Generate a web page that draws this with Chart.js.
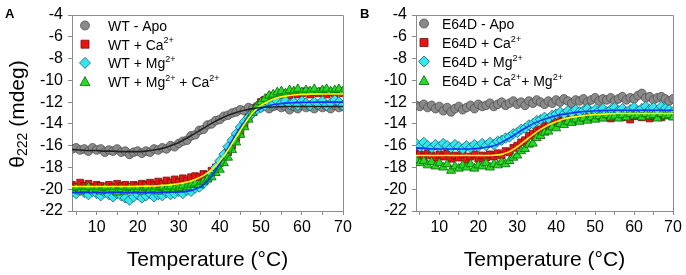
<!DOCTYPE html>
<html>
<head>
<meta charset="utf-8">
<script src="https://cdn.jsdelivr.net/npm/chart.js@4.4.1/dist/chart.umd.min.js"></script>
<style>
  html, body { margin: 0; padding: 0; background: #fff; }
  #wrap { position: relative; width: 686px; height: 275px; overflow: hidden; }
  .panel { position: absolute; top: 0; height: 275px; }
  #boxA { left: 0; width: 362px; }
  #boxB { left: 345px; width: 341px; }
</style>
</head>
<body>
<div id="wrap">
  <div class="panel" id="boxA"><canvas id="chartA" width="362" height="275"></canvas></div>
  <div class="panel" id="boxB"><canvas id="chartB" width="341" height="275"></canvas></div>
</div>
<script>
// ---- data ----
const temps = [4,5,6,7,8,9,10,11,12,13,14,15,16,17,18,19,20,21,22,23,24,25,26,27,28,29,30,31,32,33,34,35,36,37,
  38,39,40,41,42,43,44,45,46,47,48,49,50,51,52,53,54,55,56,57,58,59,60,61,62,63,64,65,66,67,68,69,70];
const fitTemps = [4,6,8,10,12,14,16,18,20,22,24,26,28,30,32,34,36,38,40,42,44,46,48,50,52,54,56,58,60,62,64,66,68,70];
const xTickVals = [5,10,15,20,25,30,35,40,45,50,55,60,65,70];

// panel A : WT
const wtApo = [-16.3,-16.2,-16.4,-16.3,-16.5,-16.2,-16.4,-16.3,-16.6,-16.4,
  -16.5,-16.3,-16.6,-16.5,-16.8,-16.6,-16.5,-16.7,-16.5,-16.6,
  -16.3,-16.4,-16.2,-16.3,-16.0,-16.1,-15.8,-15.6,-15.5,-15.1,
  -15.0,-14.6,-14.5,-14.1,-14.0,-13.7,-13.6,-13.3,-13.2,-13.0,
  -12.9,-12.7,-12.8,-12.5,-12.6,-12.4,-12.5,-12.3,-12.6,-12.4,
  -12.3,-12.5,-12.4,-12.7,-12.4,-12.6,-12.3,-12.5,-12.4,-12.6,
  -12.3,-12.5,-12.4,-12.6,-12.3,-12.5,-12.4];
const wtCa = [-19.6,-19.8,-19.4,-19.7,-19.5,-19.8,-19.6,-19.7,-19.9,-19.6,
  -19.8,-19.5,-19.7,-19.6,-19.8,-19.6,-19.7,-19.5,-19.6,-19.4,
  -19.6,-19.3,-19.5,-19.2,-19.4,-19.1,-19.3,-19.0,-19.2,-18.9,
  -18.8,-18.9,-18.6,-18.7,-18.3,-18.0,-17.6,-17.0,-16.6,-16.0,
  -15.3,-14.8,-14.1,-13.4,-12.9,-12.5,-12.0,-11.8,-11.6,-11.4,
  -11.5,-11.3,-11.2,-11.4,-11.1,-11.3,-11.2,-11.0,-11.3,-11.1,
  -11.2,-11.0,-11.3,-11.1,-11.2,-11.0,-11.2];
const wtMg = [-20.2,-20.4,-20.1,-20.3,-20.5,-20.2,-20.4,-20.6,-20.3,-20.5,
  -20.7,-20.4,-20.6,-20.8,-21.0,-20.7,-20.5,-20.8,-20.6,-20.4,
  -20.7,-20.5,-20.6,-20.3,-20.5,-20.4,-20.2,-20.4,-20.1,-20.2,
  -19.9,-19.8,-19.5,-19.1,-18.6,-18.0,-17.4,-16.8,-16.1,-15.5,
  -14.9,-14.3,-13.8,-13.4,-13.0,-12.7,-12.5,-12.3,-12.1,-12.2,
  -11.9,-12.1,-11.9,-12.2,-12.0,-12.3,-11.9,-12.1,-12.3,-12.0,
  -12.2,-11.9,-12.3,-12.1,-11.8,-12.0,-12.3];
const wtMgCa = [-20.1,-19.9,-20.2,-20.0,-19.8,-20.1,-20.0,-20.2,-19.9,-20.1,
  -20.0,-20.3,-20.0,-20.2,-19.9,-20.1,-20.0,-20.2,-19.9,-20.1,
  -20.0,-20.2,-19.9,-20.0,-19.8,-20.0,-19.9,-19.7,-19.8,-19.6,
  -19.5,-19.6,-19.3,-19.1,-18.9,-18.5,-18.2,-17.6,-17.1,-16.4,
  -15.7,-15.0,-14.3,-13.6,-13.0,-12.4,-12.0,-11.7,-11.4,-11.3,
  -11.1,-11.0,-11.2,-10.9,-11.0,-10.8,-11.1,-10.9,-11.0,-10.8,
  -11.1,-10.9,-10.8,-11.0,-10.9,-10.8,-11.0];
const fitWtApo = [-16.35,-16.4,-16.45,-16.45,-16.5,-16.5,-16.55,-16.55,-16.55,-16.5,
  -16.4,-16.25,-16.0,-15.7,-15.3,-14.85,-14.4,-13.95,-13.55,-13.2,
  -12.95,-12.75,-12.6,-12.5,-12.45,-12.42,-12.4,-12.4,-12.4,-12.4,
  -12.4,-12.4,-12.4,-12.4];
const fitWtCa = [-19.75,-19.75,-19.75,-19.75,-19.75,-19.75,-19.75,-19.75,-19.74,-19.72,
  -19.7,-19.65,-19.6,-19.5,-19.35,-19.1,-18.75,-18.2,-17.4,-16.4,
  -15.2,-14.0,-13.0,-12.3,-11.9,-11.6,-11.45,-11.35,-11.3,-11.27,
  -11.25,-11.25,-11.25,-11.25];
const fitWtMg = [-20.3,-20.3,-20.3,-20.3,-20.3,-20.3,-20.3,-20.3,-20.3,-20.3,
  -20.3,-20.3,-20.28,-20.25,-20.2,-20.0,-19.6,-18.8,-17.6,-16.2,
  -14.9,-13.8,-13.05,-12.6,-12.32,-12.17,-12.09,-12.05,-12.02,-12.01,
  -12.0,-12.0,-12.0,-12.0];
const fitWtMgCa = [-20.0,-20.0,-20.0,-20.0,-20.0,-20.0,-20.0,-20.0,-20.0,-20.0,
  -20.0,-20.0,-19.98,-19.95,-19.85,-19.65,-19.35,-18.85,-18.1,-17.0,
  -15.7,-14.3,-13.1,-12.3,-11.75,-11.45,-11.25,-11.15,-11.08,-11.05,
  -11.02,-11.0,-11.0,-11.0];

// panel B : E64D
const e64dApo = [-12.3,-12.4,-12.2,-12.5,-12.3,-12.6,-12.4,-12.8,-12.5,-12.9,
  -12.6,-12.4,-12.7,-12.5,-12.3,-12.6,-12.2,-12.4,-12.3,-12.1,
  -12.4,-12.2,-12.0,-12.3,-12.1,-11.9,-12.2,-12.0,-12.3,-11.9,
  -12.1,-11.8,-12.0,-12.2,-11.9,-12.1,-11.8,-12.0,-11.7,-11.9,
  -12.1,-11.8,-11.9,-11.7,-12.0,-11.8,-11.6,-11.9,-11.7,-11.8,
  -11.6,-11.9,-11.7,-11.5,-11.8,-11.6,-11.7,-11.4,-11.2,-11.6,
  -11.5,-11.8,-11.6,-11.5,-11.7,-11.9,-11.7];
const e64dCa = [-16.5,-16.8,-17.0,-16.7,-16.9,-17.1,-16.8,-17.0,-16.7,-17.2,
  -16.9,-17.1,-16.8,-17.3,-17.0,-16.8,-17.2,-16.9,-17.1,-16.8,
  -17.0,-16.7,-16.9,-16.5,-16.6,-16.2,-16.0,-15.7,-15.5,-15.1,
  -14.9,-14.6,-14.5,-14.2,-14.1,-13.9,-13.8,-13.6,-13.7,-13.5,
  -13.4,-13.6,-13.3,-13.5,-13.2,-13.4,-13.3,-13.1,-13.4,-13.2,
  -13.5,-13.3,-13.1,-13.4,-13.2,-13.6,-13.3,-13.1,-13.4,-13.2,
  -13.5,-13.3,-13.1,-13.4,-13.2,-13.0,-13.3];
const e64dMg = [-15.8,-16.1,-15.7,-16.0,-16.2,-15.9,-16.1,-15.8,-16.0,-16.2,
  -15.9,-16.1,-16.3,-16.0,-16.2,-15.9,-16.1,-15.8,-16.0,-15.7,
  -15.9,-15.6,-15.5,-15.3,-15.2,-14.9,-14.8,-14.5,-14.4,-14.1,
  -14.0,-13.7,-13.6,-13.4,-13.5,-13.2,-13.1,-12.9,-13.1,-12.8,
  -13.0,-12.7,-12.9,-12.8,-12.6,-12.9,-12.7,-12.8,-12.6,-12.9,
  -12.7,-12.5,-12.8,-12.6,-12.9,-12.7,-12.5,-12.8,-12.6,-12.4,
  -12.7,-12.5,-12.8,-12.4,-12.6,-12.7,-12.9];
const e64dCaMg = [-17.3,-17.6,-17.4,-17.8,-17.5,-17.9,-17.6,-18.0,-17.7,-18.3,
  -17.9,-18.1,-17.8,-18.0,-17.7,-18.1,-17.8,-17.9,-17.6,-18.0,
  -17.7,-17.8,-17.5,-17.7,-17.4,-17.1,-16.9,-16.5,-16.3,-15.9,
  -15.8,-15.3,-15.1,-14.8,-14.7,-14.3,-14.4,-14.0,-14.1,-13.8,
  -13.9,-13.6,-13.8,-13.5,-13.7,-13.4,-13.6,-13.3,-13.5,-13.2,
  -13.4,-13.3,-13.5,-13.2,-13.4,-13.1,-13.3,-13.2,-13.4,-13.1,
  -13.3,-13.2,-13.5,-13.1,-13.3,-13.2,-13.4];
const fitE64dCa = [-16.9,-16.9,-16.9,-16.9,-16.9,-16.9,-16.9,-16.9,-16.9,-16.9,
  -16.88,-16.8,-16.55,-16.1,-15.55,-15.0,-14.5,-14.1,-13.8,-13.55,
  -13.4,-13.3,-13.2,-13.15,-13.1,-13.07,-13.05,-13.05,-13.05,-13.05,
  -13.05,-13.05,-13.05,-13.05];
const fitE64dMg = [-16.2,-16.25,-16.3,-16.3,-16.3,-16.3,-16.3,-16.3,-16.25,-16.15,
  -16.0,-15.7,-15.3,-14.85,-14.4,-14.0,-13.7,-13.45,-13.25,-13.1,
  -13.0,-12.9,-12.85,-12.8,-12.78,-12.76,-12.75,-12.75,-12.75,-12.75,
  -12.75,-12.75,-12.75,-12.75];

const legendA = ['WT - Apo', 'WT + Ca^{2+}', 'WT + Mg^{2+}', 'WT + Mg^{2+} + Ca^{2+}'];
const legendB = ['E64D - Apo', 'E64D + Ca^{2+}', 'E64D + Mg^{2+}', 'E64D + Ca^{2+}+ Mg^{2+}'];

// ---- styles ----
const FONT = "Arial, 'Liberation Sans', sans-serif";
const AXIS = '#8c8c8c';
const markers = [
  { shape: 'circle', fill: '#8a8a8a', stroke: '#505050', r: 4.3 },
  { shape: 'rect', fill: '#ee1111', stroke: '#701010', r: 4.8 },
  { shape: 'rectRot', fill: '#33e6f0', stroke: '#1a6070', r: 5.2 },
  { shape: 'triangle', fill: '#22dd22', stroke: '#106010', r: 5.2 },
];
const fitColors = ['#222222', '#ffff00', '#1030ff', '#10a010'];

Chart.defaults.font.family = FONT;

const pts = (xs, ys) => ys.map((y, i) => ({ x: xs[i], y }));

function buildSets(series, fits) {
  const sets = [];
  fits.forEach((f, i) => {
    if (!f) return;
    sets.push({
      data: pts(fitTemps, f), showLine: true, pointRadius: 0,
      borderColor: fitColors[i], borderWidth: 1.6, cubicInterpolationMode: 'monotone', order: 0,
    });
  });
  const drawOrder = [4, 3, 2, 1];
  series.forEach((s, i) => {
    const m = markers[i];
    sets.push({
      data: pts(temps, s), showLine: false, pointStyle: m.shape, pointRadius: m.r,
      backgroundColor: m.fill, borderColor: m.stroke, borderWidth: 0.8, order: drawOrder[i],
    });
  });
  return sets;
}

function drawMarker(ctx, shape, x, y, fill, stroke) {
  ctx.beginPath();
  if (shape === 'circle') ctx.arc(x, y, 4.5, 0, Math.PI * 2);
  else if (shape === 'rect') ctx.rect(x - 4, y - 4, 8, 8);
  else if (shape === 'rectRot') {
    ctx.moveTo(x, y - 5.5); ctx.lineTo(x + 5.5, y); ctx.lineTo(x, y + 5.5); ctx.lineTo(x - 5.5, y); ctx.closePath();
  } else {
    ctx.moveTo(x, y - 5); ctx.lineTo(x + 5, y + 4); ctx.lineTo(x - 5, y + 4); ctx.closePath();
  }
  ctx.fillStyle = fill; ctx.fill();
  ctx.lineWidth = 0.8; ctx.strokeStyle = stroke; ctx.stroke();
}

// text with ^{..} superscripts
function drawRich(ctx, text, x, y, size) {
  const parts = text.split(/(\^\{[^}]*\})/).filter(Boolean);
  for (const p of parts) {
    if (p.startsWith('^{')) {
      const t = p.slice(2, -1);
      ctx.font = Math.round(size * 0.65) + 'px ' + FONT;
      ctx.fillText(t, x, y - size * 0.45);
      x += ctx.measureText(t).width;
    } else {
      ctx.font = size + 'px ' + FONT;
      ctx.fillText(p, x, y);
      x += ctx.measureText(p).width;
    }
  }
}

const decor = {
  id: 'decor',
  beforeDatasetsDraw(chart) {
    const { ctx, chartArea: a } = chart;
    ctx.save();
    ctx.strokeStyle = AXIS; ctx.lineWidth = 1;
    ctx.beginPath();
    ctx.moveTo(a.left, Math.round(a.top) + 0.5);
    ctx.lineTo(Math.round(a.right) + 0.5, Math.round(a.top) + 0.5);
    ctx.lineTo(Math.round(a.right) + 0.5, a.bottom);
    ctx.stroke();
    ctx.restore();
  },
  afterDraw(chart, args, o) {
    const ctx = chart.ctx;
    ctx.save();
    ctx.fillStyle = '#000';
    ctx.textBaseline = 'alphabetic';
    ctx.textAlign = 'left';
    // panel letter
    ctx.font = 'bold 13px ' + FONT;
    ctx.fillText(o.letter, o.letterX, 18);
    // legend
    o.legend.forEach((lab, i) => {
      const base = o.legendY + o.legendStep * i;
      const m = markers[i];
      drawMarker(ctx, m.shape, o.markerX, base - 5.5, m.fill, m.stroke);
      ctx.fillStyle = '#000';
      drawRich(ctx, lab, o.textX, base, 14);
    });
    // y title with subscript
    if (o.yTitle) {
      ctx.translate(24, 114);
      ctx.rotate(-Math.PI / 2);
      ctx.font = '21px ' + FONT;
      const w1 = ctx.measureText('\u03b8').width;
      const w3 = ctx.measureText(' (mdeg)').width;
      ctx.font = '14px ' + FONT;
      const w2 = ctx.measureText('222').width;
      let x = -(w1 + w2 + w3) / 2;
      ctx.font = '21px ' + FONT;
      ctx.fillText('\u03b8', x, 0); x += w1;
      ctx.font = '14px ' + FONT;
      ctx.fillText('222', x, 3); x += w2;
      ctx.font = '21px ' + FONT;
      ctx.fillText(' (mdeg)', x, 0);
    }
    ctx.restore();
  }
};

function makeChart(id, sets, yWidth, padRight, decorOpts) {
  return new Chart(document.getElementById(id), {
    type: 'scatter',
    data: { datasets: sets },
    options: {
      responsive: false,
      animation: false,
      layout: { padding: { top: 15, right: padRight, left: 0, bottom: 0 } },
      plugins: { legend: { display: false }, tooltip: { enabled: false }, decor: decorOpts },
      scales: {
        x: {
          type: 'linear', min: 4, max: 70,
          afterBuildTicks: (s) => { s.ticks = xTickVals.map((v) => ({ value: v })); },
          afterFit: (s) => { s.height = 64; },
          ticks: { color: '#000', font: { size: 16 }, padding: 3, autoSkip: false, maxRotation: 0,
            callback: (v) => (v % 10 === 0 ? v : '') },
          grid: { drawOnChartArea: false, drawTicks: true, tickLength: 4, color: AXIS },
          border: { color: AXIS },
          title: { display: true, text: 'Temperature (\u00b0C)', color: '#000', font: { size: 21 }, padding: { top: 0, bottom: 2 } },
        },
        y: {
          min: -22, max: -4,
          afterFit: (s) => { s.width = yWidth; },
          ticks: { stepSize: 2, autoSkip: false, color: '#000', font: { size: 16 }, padding: 5 },
          grid: { drawOnChartArea: false, drawTicks: true, tickLength: 4, color: AXIS },
          border: { color: AXIS },
        },
      },
    },
    plugins: [decor],
  });
}

makeChart('chartA',
  buildSets([wtApo, wtCa, wtMg, wtMgCa], [fitWtApo, fitWtCa, fitWtMg, fitWtMgCa]),
  72, 19,
  { letter: 'A', letterX: 5, legend: legendA, markerX: 85, textX: 108, legendY: 31, legendStep: 18.7, yTitle: true });

makeChart('chartB',
  buildSets([e64dApo, e64dCa, e64dMg, e64dCaMg], [null, fitE64dCa, fitE64dMg, null]),
  71, 13,
  { letter: 'B', letterX: 15, legend: legendB, markerX: 79, textX: 97, legendY: 29, legendStep: 19, yTitle: false });
</script>
</body>
</html>
